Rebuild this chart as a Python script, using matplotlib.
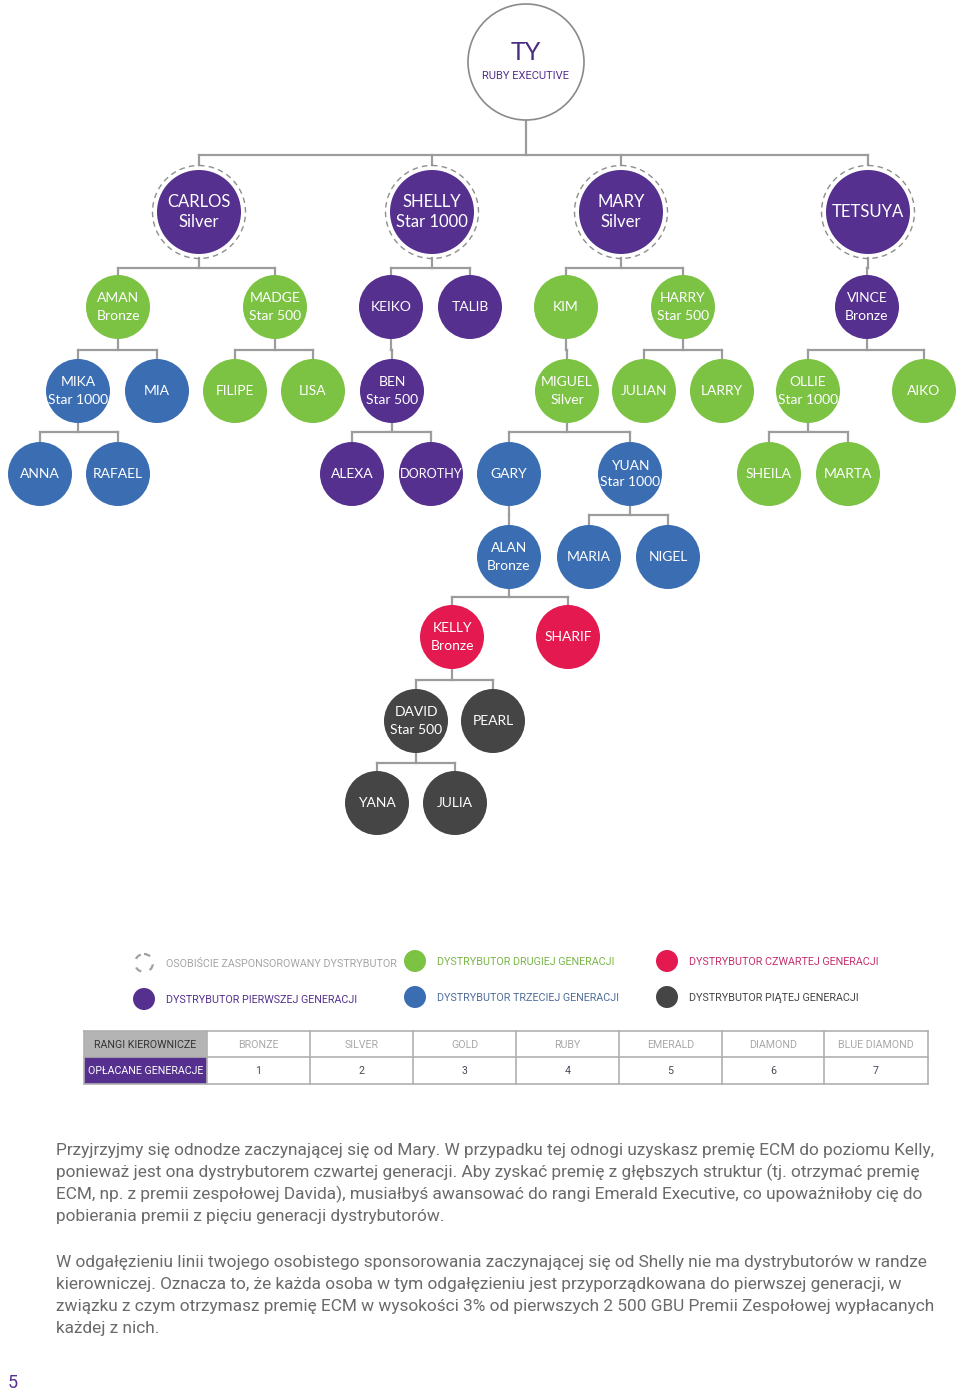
import matplotlib
matplotlib.use("Agg")
import matplotlib.pyplot as plt
from matplotlib.patches import Circle, Rectangle

# --- data -----------------------------------------------------------------
names = ["TY", "CARLOS", "SHELLY", "MARY", "TETSUYA",
         "AMAN", "MADGE", "KEIKO", "TALIB", "KIM", "HARRY", "VINCE",
         "MIKA", "MIA", "FILIPE", "LISA", "BEN", "MIGUEL", "JULIAN", "LARRY", "OLLIE", "AIKO",
         "ANNA", "RAFAEL", "ALEXA", "DOROTHY", "GARY", "YUAN", "SHEILA", "MARTA",
         "ALAN", "MARIA", "NIGEL",
         "KELLY", "SHARIF",
         "DAVID", "PEARL",
         "YANA", "JULIA"]
ranks = ["RUBY EXECUTIVE", "Silver", "Star 1000", "Silver", "",
         "Bronze", "Star 500", "", "", "", "Star 500", "Bronze",
         "Star 1000", "", "", "", "Star 500", "Silver", "", "", "Star 1000", "",
         "", "", "", "", "", "Star 1000", "", "",
         "Bronze", "", "",
         "Bronze", "",
         "Star 500", "",
         "", ""]
parents = [None, "TY", "TY", "TY", "TY",
           "CARLOS", "CARLOS", "SHELLY", "SHELLY", "MARY", "MARY", "TETSUYA",
           "AMAN", "AMAN", "MADGE", "MADGE", "KEIKO", "KIM", "HARRY", "HARRY", "VINCE", "VINCE",
           "MIKA", "MIKA", "BEN", "BEN", "MIGUEL", "MIGUEL", "OLLIE", "OLLIE",
           "GARY", "YUAN", "YUAN",
           "ALAN", "ALAN",
           "KELLY", "KELLY",
           "DAVID", "DAVID"]
# ECM generation of each distributor (0 = you)
generation = [0, 1, 1, 1, 1,
              2, 2, 1, 1, 2, 2, 1,
              3, 3, 2, 2, 1, 2, 2, 2, 2, 2,
              3, 3, 1, 1, 3, 3, 2, 2,
              3, 3, 3,
              4, 4,
              5, 5,
              5, 5]

legend_labels = ["OSOBIŚCIE ZASPONSOROWANY DYSTRYBUTOR", "DYSTRYBUTOR PIERWSZEJ GENERACJI",
                 "DYSTRYBUTOR DRUGIEJ GENERACJI", "DYSTRYBUTOR TRZECIEJ GENERACJI",
                 "DYSTRYBUTOR CZWARTEJ GENERACJI", "DYSTRYBUTOR PIĄTEJ GENERACJI"]
legend_gen = [None, 1, 2, 3, 4, 5]

table_head = ["RANGI KIEROWNICZE", "OPŁACANE GENERACJE"]
table_ranks = ["BRONZE", "SILVER", "GOLD", "RUBY", "EMERALD", "DIAMOND", "BLUE DIAMOND"]
table_gens = [1, 2, 3, 4, 5, 6, 7]

paragraphs = [
    ["Przyjrzyjmy się odnodze zaczynającej się od Mary. W przypadku tej odnogi uzyskasz premię ECM do poziomu Kelly,",
     "ponieważ jest ona dystrybutorem czwartej generacji. Aby zyskać premię z głębszych struktur (tj. otrzymać premię",
     "ECM, np. z premii zespołowej Davida), musiałbyś awansować do rangi Emerald Executive, co upoważniłoby cię do",
     "pobierania premii z pięciu generacji dystrybutorów."],
    ["W odgałęzieniu linii twojego osobistego sponsorowania zaczynającej się od Shelly nie ma dystrybutorów w randze",
     "kierowniczej. Oznacza to, że każda osoba w tym odgałęzieniu jest przyporządkowana do pierwszej generacji, w",
     "związku z czym otrzymasz premię ECM w wysokości 3% od pierwszych 2 500 GBU Premii Zespołowej wypłacanych",
     "każdej z nich."],
]

# --- layout ---------------------------------------------------------------
node_x = {"TY": 526, "CARLOS": 199, "SHELLY": 432, "MARY": 621, "TETSUYA": 868,
          "AMAN": 118, "MADGE": 275, "KEIKO": 391, "TALIB": 470, "KIM": 566, "HARRY": 683, "VINCE": 867,
          "MIKA": 78, "MIA": 157, "FILIPE": 235, "LISA": 313, "BEN": 392, "MIGUEL": 567,
          "JULIAN": 644, "LARRY": 722, "OLLIE": 808, "AIKO": 924,
          "ANNA": 40, "RAFAEL": 118, "ALEXA": 352, "DOROTHY": 431, "GARY": 509, "YUAN": 630,
          "SHEILA": 769, "MARTA": 848,
          "ALAN": 509, "MARIA": 589, "NIGEL": 668,
          "KELLY": 452, "SHARIF": 568,
          "DAVID": 416, "PEARL": 493,
          "YANA": 377, "JULIA": 455}
level_y = [62, 212, 307, 391, 474, 557, 637, 721, 803]
bar_y = [155, 268, 350, 432, 515, 597, 680, 763]

gen_colors = {1: "#55308f", 2: "#7cc243", 3: "#3b6db3", 4: "#e3194f", 5: "#454545"}
legend_text_colors = ["#a5a5a5", "#55308f", "#7ab648", "#4f6d9c", "#c2306a", "#444444"]
line_col = "#9c9c9c"

fig = plt.figure(figsize=(9.6, 13.99), dpi=100)
ax = fig.add_axes([0, 0, 1, 1])
ax.set_xlim(0, 960)
ax.set_ylim(1399, 0)
ax.axis("off")
renderer = fig.canvas.get_renderer()

node_font = "Lato"
narrow = ["Roboto", "DejaVu Sans"]


def text_w(t):
    return t.get_window_extent(renderer).width


def fit(t, max_w):
    # shrink a text until it is no wider than max_w pixels
    w = text_w(t)
    if w > max_w:
        t.set_fontsize(t.get_fontsize() * max_w / w)
    return t


def size_for(s, target_w, family, weight="normal"):
    t = ax.text(0, 0, s, fontsize=10, family=family, weight=weight)
    fs = 10 * target_w / text_w(t)
    t.remove()
    return fs


depth = {}
for n, p in zip(names, parents):
    depth[n] = 0 if p is None else depth[p] + 1


def radius(n):
    d = depth[n]
    return 58 if d == 0 else (42 if d == 1 else 32)


# connectors
for n in names:
    kids = [c for c, p in zip(names, parents) if p == n]
    if not kids:
        continue
    d = depth[n]
    px, py = node_x[n], level_y[d]
    by = bar_y[d]
    cy = level_y[d + 1]
    top_off = 47 if d + 1 == 1 else radius(kids[0])
    ax.plot([px, px], [py + radius(n) + (4 if d == 1 else 0), by], color=line_col, lw=1.6, zorder=1)
    xs = [node_x[k] for k in kids] + [px]
    ax.plot([min(xs), max(xs)], [by, by], color=line_col, lw=1.6, zorder=1)
    for k in kids:
        ax.plot([node_x[k], node_x[k]], [by, cy - top_off], color=line_col, lw=1.6, zorder=1)

# nodes
for n, r, g in zip(names, ranks, generation):
    x, y = node_x[n], level_y[depth[n]]
    if depth[n] == 0:
        ax.add_patch(Circle((x, y), 58, facecolor="white", edgecolor="#8a8a8a", lw=1.2, zorder=2))
        ax.text(x, y - 10, n, ha="center", va="center", fontsize=18, color="#4a2d7f",
                family=node_font, zorder=3)
        fit(ax.text(x, y + 14, r, ha="center", va="center", fontsize=8, color="#55308f",
                    family=narrow, zorder=3), 89)
        continue
    rad = radius(n)
    ax.add_patch(Circle((x, y), rad, facecolor=gen_colors[g], edgecolor="none", zorder=2))
    if depth[n] == 1:
        ax.add_patch(Circle((x, y), rad + 4.5, facecolor="none", edgecolor="#8f8f8f",
                            lw=1.0, ls=(0, (4, 3)), zorder=2))
        fs, off = 12, 10
    else:
        fs, off = 10, 8.5
    maxw = 2 * rad - 2
    if r:
        fit(ax.text(x, y - off, n, ha="center", va="center", fontsize=fs, color="white",
                    family=node_font, zorder=3), maxw)
        fit(ax.text(x, y + off, r, ha="center", va="center", fontsize=fs, color="white",
                    family=node_font, zorder=3), maxw)
    else:
        fit(ax.text(x, y, n, ha="center", va="center", fontsize=fs, color="white",
                    family=node_font, zorder=3), maxw)

# legend
leg_fs = size_for(legend_labels[0], 231, narrow)
leg_x = [144, 144, 415, 415, 667, 667]
leg_y = [963, 999, 961, 997, 961, 997]
for lbl, g, tc, lx, ly in zip(legend_labels, legend_gen, legend_text_colors, leg_x, leg_y):
    if g is None:
        ax.add_patch(Circle((lx, ly), 9, facecolor="none", edgecolor="#a0a0a0", lw=1.6,
                            ls=(0, (3, 4)), zorder=2))
    else:
        ax.add_patch(Circle((lx, ly), 11, facecolor=gen_colors[g], edgecolor="none", zorder=2))
    ax.text(lx + 22, ly + 1, lbl, ha="left", va="center", fontsize=leg_fs, color=tc, family=narrow)

# table
tab_fs = size_for(table_head[1], 115, narrow)
col_edges = [84, 207, 310, 413, 516, 619, 722, 824, 928]
row_edges = [1031, 1057, 1084]
ax.add_patch(Rectangle((col_edges[0], row_edges[0]), col_edges[1] - col_edges[0],
                       row_edges[1] - row_edges[0], facecolor="#b4b4b4", edgecolor="none"))
ax.add_patch(Rectangle((col_edges[0], row_edges[1]), col_edges[1] - col_edges[0],
                       row_edges[2] - row_edges[1], facecolor="#55308f", edgecolor="none"))
for ye in row_edges:
    ax.plot([col_edges[0], col_edges[-1]], [ye, ye], color="#b0b0b0", lw=1.2)
for xe in col_edges:
    ax.plot([xe, xe], [row_edges[0], row_edges[-1]], color="#b0b0b0", lw=1.2)
cx0 = (col_edges[0] + col_edges[1]) / 2
ax.text(cx0, (row_edges[0] + row_edges[1]) / 2 + 1, table_head[0], ha="center", va="center",
        fontsize=tab_fs, color="#333333", family=narrow)
ax.text(cx0, (row_edges[1] + row_edges[2]) / 2 + 1, table_head[1], ha="center", va="center",
        fontsize=tab_fs, color="white", family=narrow)
for i, (rk, gn) in enumerate(zip(table_ranks, table_gens)):
    cx = (col_edges[i + 1] + col_edges[i + 2]) / 2
    ax.text(cx, (row_edges[0] + row_edges[1]) / 2 + 1, rk, ha="center", va="center",
            fontsize=tab_fs, color="#a8a8a8", family=narrow)
    ax.text(cx, (row_edges[1] + row_edges[2]) / 2 + 1, str(gn), ha="center", va="center",
            fontsize=tab_fs, color="#4a4a5a", family=narrow)

# body text
body_fs = size_for(paragraphs[0][0], 884, narrow)
para_top = [1150, 1262]
for lines, y0 in zip(paragraphs, para_top):
    for j, line in enumerate(lines):
        ax.text(56, y0 + j * 22.3, line, ha="left", va="center", fontsize=body_fs,
                color="#6a6a6a", family=narrow)

ax.text(8, 1383, "5", ha="left", va="center", fontsize=13, color="#55308f", family=narrow)

fig.savefig("out.png", dpi=100)
